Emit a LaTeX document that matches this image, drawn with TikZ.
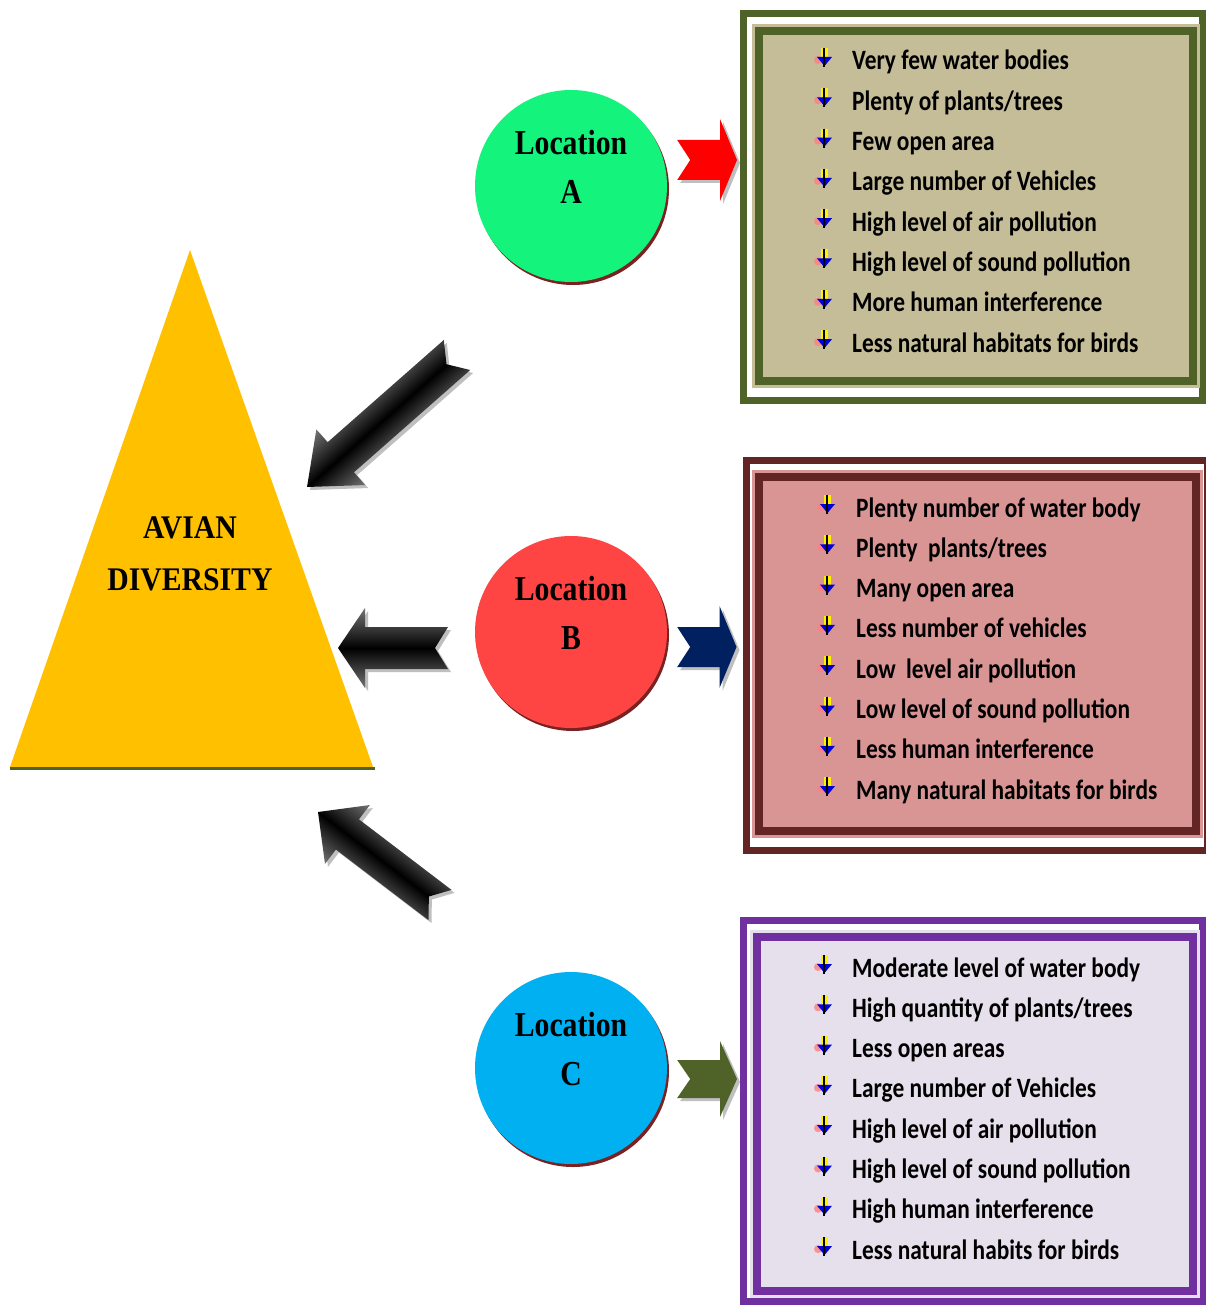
\documentclass[tikz,border=0pt]{standalone}
\usepackage{fontspec}
\usetikzlibrary{calc,shadows}

\newfontfamily\listfont[FakeStretch=0.835]{Carlito}
\newfontfamily\locfont[FakeStretch=0.85]{Liberation Serif}
\newfontfamily\avianfont[FakeStretch=0.9]{Liberation Serif}

\definecolor{frameA}{HTML}{4F6228}
\definecolor{fillA}{HTML}{C4BD97}
\definecolor{frameB}{HTML}{632523}
\definecolor{fillB}{HTML}{D99594}
\definecolor{frameC}{HTML}{7030A0}
\definecolor{fillC}{HTML}{E5E0EC}
\definecolor{greenloc}{HTML}{14F47D}
\definecolor{redloc}{HTML}{FF4444}
\definecolor{blueloc}{HTML}{00B0F0}
\definecolor{aviancol}{HTML}{FFC000}
\definecolor{shadowred}{HTML}{7A2222}
\definecolor{navyarrow}{HTML}{002060}

% block arrow with notched tail: tail, tip, look, shaft, head, head length, notch
\newcommand{\blockarrow}[7]{%
  \path let \p1 = ($(#2)-(#1)$) in \pgfextra{%
    \pgfmathsetmacro{\arrang}{atan2(\y1,\x1)}%
    \pgfmathsetmacro{\arrlen}{veclen(\x1,\y1)}%
    \xdef\arrowang{\arrang}\xdef\arrowlen{\arrlen}};
  \begin{scope}[transform canvas={shift={([xshift=3pt,yshift=-3pt]#1)}, rotate=\arrowang}]
    \fill[black!25] (0pt,#4pt) -- ({\arrowlen pt-#6pt},#4pt) -- ({\arrowlen pt-#6pt},#5pt)
      -- (\arrowlen pt,0pt) -- ({\arrowlen pt-#6pt},-#5pt) -- ({\arrowlen pt-#6pt},-#4pt)
      -- (0pt,-#4pt) -- (#7pt,0pt) -- cycle;
  \end{scope}
  \begin{scope}[transform canvas={shift={(#1)}, rotate=\arrowang}]
    \path[#3] (0pt,#4pt) -- ({\arrowlen pt-#6pt},#4pt) -- ({\arrowlen pt-#6pt},#5pt)
      -- (\arrowlen pt,0pt) -- ({\arrowlen pt-#6pt},-#5pt) -- ({\arrowlen pt-#6pt},-#4pt)
      -- (0pt,-#4pt) -- (#7pt,0pt) -- cycle;
  \end{scope}}

\begin{document}
\begin{tikzpicture}[x=1pt, y=-1pt,
    loc/.style={circle, fill=#1, minimum size=192pt, inner sep=0pt,
      drop shadow={shadow xshift=2pt, shadow yshift=-3pt, fill=shadowred, opacity=1}},
    loctext/.style={font=\locfont\bfseries\fontsize{35}{49}\selectfont, align=center},
    outerbox/.style={rectangle, draw=#1, line width=7pt, fill=white, inner sep=0pt},
    innerbox/.style 2 args={rectangle, draw=#1, fill=#2, line width=8pt, inner sep=0pt,
      preaction={draw=#2, line width=14pt}},
    item/.style={anchor=base west, inner sep=0pt,
      font=\listfont\bfseries\fontsize{28}{30}\selectfont},
    bigarrow/.style={top color=black!55, bottom color=black!55, middle color=black},
    listmark/.pic={
      \fill[red!50, opacity=0.8] (-6,2) circle (4);
      \fill[yellow] (-3,-10) rectangle (4,-1);
      \fill[blue!85!black] (-7,-1) -- (8,-1) -- (0.5,8) -- cycle;
      \draw[line width=1.2pt] (0,-10) -- (0,9);
    }]
  \path[fill=white] (0,0) rectangle (1206,1305);
  \useasboundingbox (0,0) rectangle (1206,1305);

  % avian diversity
  \path[fill=aviancol] (190,250) -- (373,767) -- (10,767) -- cycle;
  \draw[frameA, line width=3pt] (10,768.5) -- (375,768.5);
  \node[align=center, font=\avianfont\bfseries\fontsize{33}{52}\selectfont] (avian) at (190,554) {AVIAN\\DIVERSITY};

  % locations
  \node[loc=greenloc] (locA) at (571,186) {};
  \node[loctext] (locAtext) at ([yshift=19pt]locA.center) {Location\\A};
  \node[loc=redloc] (locB) at (571,632) {};
  \node[loctext] (locBtext) at ([yshift=19pt]locB.center) {Location\\B};
  \node[loc=blueloc] (locC) at (571,1068) {};
  \node[loctext] (locCtext) at ([yshift=19pt]locC.center) {Location\\C};

  % boxes
  \node[outerbox=frameA, minimum width=459pt, minimum height=387pt] (boxA) at (973,207) {};
  \node[innerbox={frameA}{fillA}, minimum width=434pt, minimum height=350pt] (listA) at (976,206) {};
  \node[outerbox=frameB, minimum width=461pt, minimum height=390pt] (boxB) at (976.5,655) {};
  \node[innerbox={frameB}{fillB}, minimum width=437pt, minimum height=354pt] (listB) at (977.5,654) {};
  \node[outerbox=frameC, minimum width=459pt, minimum height=381pt] (boxC) at (973,1111) {};
  \node[innerbox={frameC}{fillC}, minimum width=436pt, minimum height=354pt] (listC) at (975,1114) {};

  \foreach \txt [count=\i from 0] in {Very few water bodies, Plenty of plants/trees,
      Few open area, Large number of Vehicles, High level of air pollution,
      High level of sound pollution, More human interference,
      Less natural habitats for birds} {
    \node[item] (itemA\i) at (852,{70+40.3*\i}) {\txt};
    \pic at (824,{58+40.3*\i}) {listmark};
  }
  \foreach \txt [count=\i from 0] in {Plenty number of water body, Plenty~ plants/trees,
      Many open area, Less number of vehicles, Low~ level air pollution,
      Low level of sound pollution, Less human interference,
      Many natural habitats for birds} {
    \node[item] (itemB\i) at (856,{517+40.3*\i}) {\txt};
    \pic at (827,{505+40.3*\i}) {listmark};
  }
  \foreach \txt [count=\i from 0] in {Moderate level of water body,
      High quantity of plants/trees, Less open areas, Large number of Vehicles,
      High level of air pollution, High level of sound pollution,
      High human interference, Less natural habits for birds} {
    \node[item] (itemC\i) at (852,{977+40.3*\i}) {\txt};
    \pic at (824,{965+40.3*\i}) {listmark};
  }

  % arrows to the boxes
  \coordinate (outA) at ([xshift=10pt,yshift=26pt]locA.east);
  \coordinate (inA) at ($(boxA.west |- outA)+(-3,0)$);
  \coordinate (outB) at ([xshift=10pt,yshift=-15pt]locB.east);
  \coordinate (inB) at ($(boxB.west |- outB)+(-6,0)$);
  \coordinate (outC) at ([xshift=10pt,yshift=-11pt]locC.east);
  \coordinate (inC) at ($(boxC.west |- outC)+(-3,0)$);
  \blockarrow{outA}{inA}{fill=red}{20}{41}{17}{13}
  \blockarrow{outB}{inB}{fill=navyarrow}{20}{41}{17}{13}
  \blockarrow{outC}{inC}{fill=frameA}{19}{38}{17}{13}

  % arrows to avian diversity
  \coordinate (tailA) at (457,355);
  \coordinate (tipA) at (307,487);
  \coordinate (tailB) at (448,648);
  \coordinate (tipB) at (338,648);
  \coordinate (tailC) at (440,905);
  \coordinate (tipC) at (318,812);
  \blockarrow{tailA}{tipA}{bigarrow}{20}{37}{45}{14}
  \blockarrow{tailB}{tipB}{bigarrow}{21}{40}{27}{13}
  \blockarrow{tailC}{tipC}{bigarrow}{19}{37}{37}{14}
\end{tikzpicture}
\end{document}
